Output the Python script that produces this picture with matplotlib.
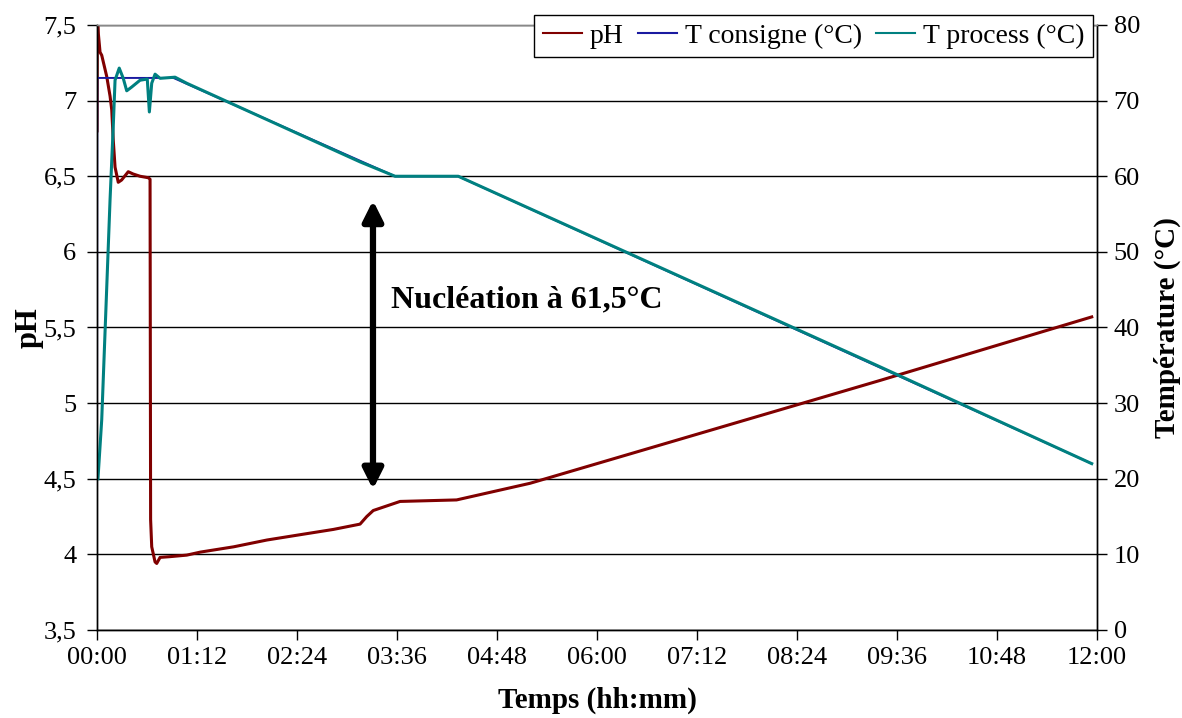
import matplotlib.pyplot as plt
from matplotlib.ticker import FuncFormatter, MultipleLocator

plt.rcParams['font.family'] = ['Liberation Serif', 'DejaVu Serif']

# time in minutes since start
t_ph = [0, 0.3, 1, 2.2, 3.4, 7, 9.4, 10.6, 11.7, 13, 15.3, 17.7, 22.5, 26, 31, 37,
        38.2, 38.6, 39.4, 41.8, 43, 45.4, 52.6, 64.6, 74.4, 98.4, 122.4, 146.2,
        170.2, 189.4, 194.2, 198.9, 218.2, 258.9, 311.8, 563.8, 716.2]
ph = [6.8, 7.6, 7.44, 7.32, 7.30, 7.16, 7.03, 6.94, 6.74, 6.56, 6.46, 6.475, 6.53,
      6.515, 6.50, 6.49, 6.48, 4.23, 4.05, 3.95, 3.94, 3.98, 3.985, 3.995, 4.015,
      4.05, 4.095, 4.13, 4.165, 4.20, 4.25, 4.29, 4.35, 4.36, 4.47, 5.15, 5.57]

t_cons = [0, 0.2, 55, 214.6, 260, 716.2]
T_cons = [20, 73, 73, 60, 60, 22]

t_proc = [0.7, 3.4, 9.4, 11.7, 13, 16, 18.9, 21.4, 25, 31, 36.2, 37.7, 39.4, 41.8,
          45.4, 56.2, 64.6, 88.6, 189.4, 214.6, 260.1, 563.8, 716.2]
T_proc = [20, 27.8, 56.9, 66.6, 72.7, 74.3, 72.95, 71.3, 71.8, 72.7, 72.85, 68.5,
          72.3, 73.5, 72.95, 73.1, 72.3, 70.3, 61.9, 60.0, 60.0, 34.8, 22.0]

ph_ticks = [3.5, 4, 4.5, 5, 5.5, 6, 6.5, 7, 7.5]
temp_ticks = [0, 10, 20, 30, 40, 50, 60, 70, 80]

c_ph = '#800000'
c_cons = '#1a1aa0'
c_proc = '#008080'

fig = plt.figure(figsize=(11.82, 7.18), dpi=100)
ax1 = fig.add_axes([97 / 1182, 1 - 630 / 718, 1000 / 1182, 605 / 718])
ax2 = ax1.twinx()

l1, = ax1.plot(t_ph, ph, color=c_ph, lw=2.2)
l2, = ax2.plot(t_cons, T_cons, color=c_cons, lw=1.4)
l3, = ax2.plot(t_proc, T_proc, color=c_proc, lw=2.2)

ax1.set_xlim(0, 720)
ax1.set_ylim(3.5, 7.5)
ax2.set_ylim(0, 80)
ax1.set_yticks(ph_ticks)
ax2.set_yticks(temp_ticks)
ax1.xaxis.set_major_locator(MultipleLocator(72))


def hhmm(m, pos):
    m = int(round(m))
    return f"{m // 60:02d}:{m % 60:02d}"


def comma(v, pos):
    s = f"{v:g}"
    return s.replace('.', ',')


ax1.xaxis.set_major_formatter(FuncFormatter(hhmm))
ax1.yaxis.set_major_formatter(FuncFormatter(comma))

ax1.yaxis.grid(True, color='black', lw=1)
ax1.set_axisbelow(True)

for ax in (ax1, ax2):
    ax.tick_params(labelsize=19, direction='out', length=7, width=1, colors='black')
    for s in ax.spines.values():
        s.set_linewidth(1)
    ax.spines['top'].set_color('#888888')
ax1.tick_params(axis='x', pad=5)
ax1.tick_params(axis='y', pad=8)
ax2.tick_params(axis='y', pad=5)

ax1.set_ylabel('pH', fontsize=22, fontweight='bold', labelpad=0)
ax2.set_ylabel('Température (°C)', fontsize=21, fontweight='bold', labelpad=10)
ax1.set_xlabel('Temps (hh:mm)', fontsize=21, fontweight='bold', labelpad=13)

# nucleation marker
ax1.annotate('', xy=(198.7, 6.34), xytext=(198.7, 4.43),
             arrowprops=dict(arrowstyle='<|-|>', lw=4.5, color='black',
                             mutation_scale=30, shrinkA=0, shrinkB=0))
ax1.text(212, 5.68, 'Nucléation à 61,5°C', fontsize=23, fontweight='bold',
         ha='left', va='center')

leg = ax2.legend([l1, l2, l3], ['pH', 'T consigne (°C)', 'T process (°C)'],
                 ncol=3, loc='upper right', bbox_to_anchor=(1093 / 1182, 1 - 15 / 718),
                 bbox_transform=fig.transFigure, fontsize=20, frameon=True,
                 fancybox=False, edgecolor='black', framealpha=1,
                 handlelength=1.4, handletextpad=0.3, columnspacing=0.5,
                 borderpad=0.3, borderaxespad=0)
leg.get_frame().set_linewidth(1)
for h in leg.legend_handles:
    h.set_linewidth(1.5)

fig.savefig('out.png', dpi=100)
